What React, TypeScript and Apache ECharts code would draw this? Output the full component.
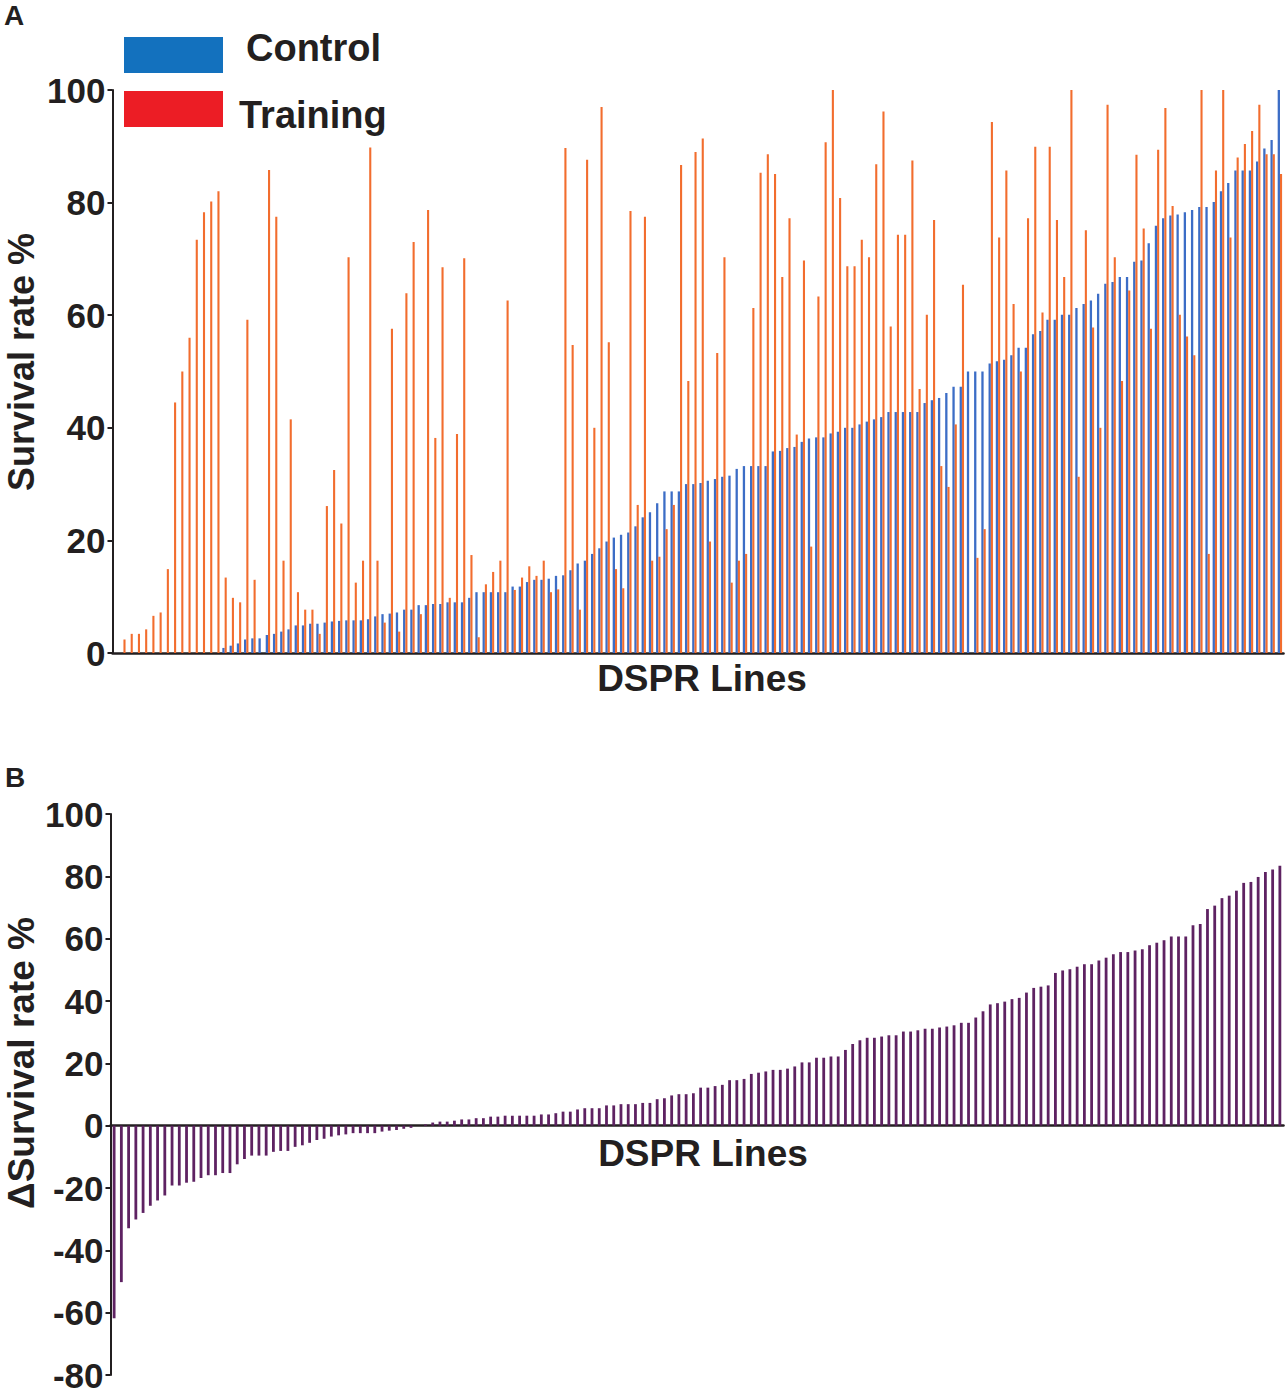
import React, { useEffect, useRef } from "react";
import * as echarts from "echarts";

// Panel A: survival rate % per DSPR line (sorted by control)
const controlRate: number[] = [
  0, 0, 0, 0, 0, 0, 0, 0, 0, 0, 0, 0, 0, 0, 0,
  0.9, 1.3, 1.7, 2.4, 2.6, 2.6, 3.2, 3.4, 3.8, 4.2, 4.9, 4.9, 5.2, 5.2, 5.4,
  5.6, 5.7, 5.8, 5.8, 5.8, 6.0, 6.5, 6.9, 7.0, 7.2, 7.7, 7.7, 8.5, 8.5, 8.7,
  8.7, 9.0, 9.0, 9.0, 9.8, 10.8, 10.8, 10.8, 10.8, 10.8, 11.8, 11.8, 12.6, 13, 13,
  13.2, 13.7, 13.8, 14.7, 15.9, 16.4, 17.6, 18.6, 19.8, 20.5, 21, 21.4, 22.5, 24.1, 25,
  26.6, 28.7, 28.7, 28.7, 30, 30, 30.2, 30.6, 30.9, 31.3, 31.5, 32.7, 33.2, 33.2, 33.2,
  33.2, 35.8, 35.9, 36.4, 36.6, 37.5, 38.1, 38.3, 38.3, 39, 39.3, 40, 40, 40.6, 41.1,
  41.5, 41.9, 42.8, 42.8, 42.8, 42.8, 42.8, 44.4, 44.9, 45.3, 46.2, 47.3, 47.3, 50, 50,
  50, 51.4, 51.8, 52.1, 52.9, 54.2, 54.2, 56.6, 57.2, 59.2, 59.2, 60.1, 60.1, 61.3, 62,
  62.6, 63.8, 65.6, 65.9, 66.8, 66.8, 69.5, 69.7, 72.8, 75.9, 77.2, 77.7, 77.9, 78.3, 78.7,
  79.2, 79.2, 80.1, 82, 83.5, 85.7, 85.7, 85.7, 87.3, 89.6, 91.1, 100,
];

const trainingRate: number[] = [
  0, 2.4, 3.4, 3.4, 4.2, 6.6, 7.2, 14.9, 44.5, 50, 56, 73.4, 78.3, 80.2, 82,
  13.4, 9.8, 9.0, 59.2, 13, 0, 85.8, 77.5, 16.4, 41.5, 10.8, 7.7, 7.7, 3.4, 26.1,
  32.5, 23, 70.3, 12.5, 16.4, 89.8, 16.4, 5.4, 57.6, 3.8, 63.9, 73.0, 6.9, 78.7, 38.2,
  68.5, 9.8, 38.9, 70.1, 17.4, 2.8, 12.2, 14.4, 16.4, 62.6, 11.2, 13.4, 15.4, 13.7, 16.4,
  10.8, 11.3, 89.7, 54.7, 7.7, 87.6, 40.0, 97, 55.2, 14.9, 11.5, 78.5, 26.3, 77.5, 16.4,
  17.1, 22, 26.3, 86.7, 48.3, 89, 91.4, 19.8, 53.3, 70.3, 12.5, 16.4, 17.6, 61.3, 85.3,
  88.6, 85.1, 66.8, 77.2, 38.8, 69.7, 18.9, 63.3, 90.7, 100, 80.8, 68.7, 68.7, 73.4, 70.3,
  86.8, 96.2, 58, 74.3, 74.3, 87.5, 46.9, 60.1, 76.9, 33.2, 29.5, 40.6, 65.4, 0, 16.9,
  22, 94.3, 73.8, 85.7, 62, 50, 77.2, 89.9, 60.5, 89.9, 76.9, 66.8, 100, 31.3, 75.1,
  57.8, 40, 97.4, 70.3, 48.3, 64.4, 88.5, 75.4, 57.6, 89.4, 96.8, 79.4, 60.1, 56.2, 52.9,
  100, 17.6, 85.7, 100, 73.8, 88, 90.4, 92.7, 97.4, 88.6, 88.6, 85.1,
];

// Panel B: change in survival rate % (sorted)
const deltaRate: number[] = [
  -61.8, -50.2, -32.9, -30.1, -28, -25.7, -24, -22.4, -19.2, -19.2, -18.3, -18, -16.8, -15.9,
  -15.9, -15.2, -15.2, -12.4, -10.7, -9.6, -9.6, -9.6, -8.4, -8.1, -8.1, -6.8, -6.3, -5.5,
  -4.6, -4.2, -3.5, -3.1, -2.8, -2.4, -2.4, -2.4, -2.4, -1.9, -1.6, -1.4, -1.0, -0.7,
  0,
  0.4, 1.0, 1.3, 1.3, 1.6, 2.0, 2.0, 2.4, 2.4, 2.9, 2.9, 3.2, 3.2, 3.2, 3.2, 3.2, 3.6, 3.6,
  4.0, 4.5, 4.5, 5.2, 5.6, 5.6, 5.6, 6.5, 6.5, 6.9, 6.9, 6.9, 7.3, 7.3, 8.5, 8.8, 9.7, 10.1,
  10.1, 10.4,
  12.2, 12.2, 12.7, 13.1, 14.6, 14.6, 15.0, 16.6, 17.0, 17.4, 17.9, 17.9, 18.3, 19.0, 20.3,
  20.3, 21.8, 21.8, 22.2, 22.2, 24.3, 26.2, 27.4, 28.2, 28.2, 28.6, 29.0, 29.0, 30.2, 30.2,
  30.6, 31.1, 31.1, 31.5, 31.8, 32.2, 33.0, 33.0, 34.7, 36.7,
  38.9, 39.3, 39.8, 40.6, 41.0, 42.7, 44.2, 44.6, 45.0, 49.0, 49.8, 50.2, 51.0, 51.8, 51.8,
  53.0, 53.9, 55.0, 55.7, 55.7, 56.2, 56.6, 57.9, 58.7, 59.5, 60.7, 60.7, 60.7, 64.3, 64.7,
  69.5, 70.6, 73.0, 73.8, 75.4, 77.9, 78.2, 79.8, 81.4, 82.2, 83.4,
];

const linesA: string[] = controlRate.map((_, i) => `Line ${i + 1}`);
const linesB: string[] = deltaRate.map((_, i) => `Line ${i + 1}`);

const yTicksA = { min: 0, max: 100, interval: 20 };
const yTicksB = { min: -80, max: 100, interval: 20 };

const FONT = "'Liberation Sans', Arial, Helvetica, sans-serif";
const INK = "#231F20";

export default function App() {
  const ref = useRef<HTMLDivElement>(null);

  useEffect(() => {
    if (!ref.current) return;
    const chart = echarts.init(ref.current, undefined, { renderer: "svg" });

    const yAxisCommon = {
      type: "value" as const,
      splitLine: { show: false },
      axisLine: { show: true, lineStyle: { color: INK, width: 2 } },
      axisTick: { show: true, length: 5, lineStyle: { color: INK, width: 2 } },
      axisLabel: {
        fontSize: 35,
        lineHeight: 26,
        fontWeight: "bold",
        color: INK,
        fontFamily: FONT,
        margin: 7,
      },
    };

    const boldText = (size: number) => `bold ${size}px ${FONT}`;

    const option = {
      animation: false,
      backgroundColor: "#ffffff",
      grid: [
        { left: 112.5, top: 90, width: 1171, height: 563 },
        { left: 110.5, top: 814, width: 1173, height: 561 },
      ],
      xAxis: [
        {
          type: "category",
          gridIndex: 0,
          data: linesA,
          axisLine: { lineStyle: { color: INK, width: 2.5 } },
          axisTick: { show: false },
          axisLabel: { show: false },
        },
        {
          type: "category",
          gridIndex: 1,
          data: linesB,
          axisLine: { onZero: true, lineStyle: { color: INK, width: 2.5 } },
          axisTick: { show: false },
          axisLabel: { show: false },
        },
      ],
      yAxis: [
        { ...yAxisCommon, gridIndex: 0, ...yTicksA },
        { ...yAxisCommon, gridIndex: 1, ...yTicksB },
      ],
      series: [
        {
          name: "Control",
          type: "bar",
          xAxisIndex: 0,
          yAxisIndex: 0,
          data: controlRate,
          barWidth: 2.3,
          barGap: "0%",
          itemStyle: { color: "#3C6DC6" },
        },
        {
          name: "Training",
          type: "bar",
          xAxisIndex: 0,
          yAxisIndex: 0,
          data: trainingRate,
          barWidth: 2.1,
          barGap: "0%",
          itemStyle: { color: "#F26D2E" },
        },
        {
          name: "ΔSurvival",
          type: "bar",
          xAxisIndex: 1,
          yAxisIndex: 1,
          data: deltaRate,
          barWidth: 2.8,
          itemStyle: { color: "#5E2262" },
        },
      ],
      graphic: [
        { type: "text", x: 4, y: 15, style: { text: "A", font: boldText(28), fill: INK, verticalAlign: "middle" } },
        { type: "text", x: 5, y: 777, style: { text: "B", font: boldText(28), fill: INK, verticalAlign: "middle" } },
        { type: "rect", shape: { x: 124, y: 37, width: 99, height: 36 }, style: { fill: "#1371BE" } },
        { type: "rect", shape: { x: 124, y: 91, width: 99, height: 36 }, style: { fill: "#EC1D25" } },
        { type: "text", x: 246, y: 48, style: { text: "Control", font: boldText(38), fill: INK, verticalAlign: "middle" } },
        { type: "text", x: 239, y: 115, style: { text: "Training", font: boldText(38), fill: INK, verticalAlign: "middle" } },
        {
          type: "text",
          x: 21,
          y: 362,
          rotation: Math.PI / 2,
          style: { text: "Survival rate %", font: boldText(36), fill: INK, align: "center", verticalAlign: "middle" },
        },
        {
          type: "text",
          x: 21,
          y: 1063,
          rotation: Math.PI / 2,
          style: { text: "ΔSurvival rate %", font: boldText(37), fill: INK, align: "center", verticalAlign: "middle" },
        },
        { type: "text", x: 702, y: 678, style: { text: "DSPR Lines", font: boldText(37), fill: INK, align: "center", verticalAlign: "middle" } },
        { type: "text", x: 703, y: 1153, style: { text: "DSPR Lines", font: boldText(37), fill: INK, align: "center", verticalAlign: "middle" } },
      ],
    };

    chart.setOption(option as any);
    return () => chart.dispose();
  }, []);

  return (
    <div
      ref={ref}
      style={{ position: "absolute", left: 0, top: 0, width: 1287, height: 1396, background: "#fff" }}
    />
  );
}
